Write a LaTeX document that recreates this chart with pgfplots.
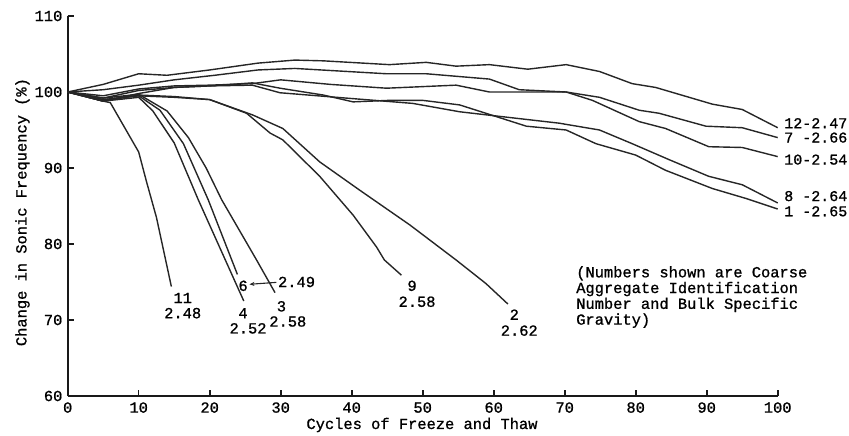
\documentclass[border=0pt]{standalone}
\usepackage{pgfplots}
\pgfplotsset{compat=1.18}
\usetikzlibrary{arrows.meta}
\usepackage{fontspec}
\setmainfont{Liberation Mono}[FakeBold=1]
\newcommand{\lbl}{\fontsize{15.4bp}{16bp}\selectfont}
\newcommand{\taglbl}{\fontsize{15bp}{16bp}\selectfont}
\pgfplotsset{curve/.style={black!85, solid, line width=1.4bp, line join=round, mark=none}}
\begin{document}
\lbl
\begin{tikzpicture}
\begin{axis}[
  at={(0,0)}, anchor=south west,
  scale only axis, width=710bp, height=380bp,
  xmin=0, xmax=100, ymin=60, ymax=110,
  axis lines=left,
  axis line style={-, line width=1.9bp, black!90},
  xtick={0,10,...,100}, ytick={60,70,...,110},
  tick align=inside, major tick length=6bp,
  tick style={line width=1.6bp, black!90},
  /pgf/number format/assume math mode=true,
  ticklabel style={font=\lbl},
  xticklabel style={yshift=-1bp},
  xlabel={Cycles of Freeze and Thaw},
  ylabel={Change in Sonic Frequency (\%)},
  xlabel style={font=\lbl, at={(axis description cs:0.499,0)}, anchor=center, yshift=-29bp},
  ylabel style={font=\lbl, at={(axis description cs:-0.0637,0.484)}, anchor=center},
  clip=false,
]
% specimen 12
\addplot[curve] coordinates {(0,100) (5,101.0) (10,102.4) (14,102.2) (20,102.9) (26.8,103.8) (32,104.2) (36,104.1) (45.3,103.6) (50.5,103.9) (54.7,103.4) (59.4,103.6) (64.8,103.0) (70.2,103.6) (74.9,102.7) (79.5,101.1) (82.8,100.6) (90.8,98.4) (95,97.7) (100,95.3)};
% specimen 7
\addplot[curve] coordinates {(0,100) (5,100.3) (10,100.9) (15,101.6) (20.7,102.2) (26.8,102.9) (32,103.1) (44.9,102.4) (50.5,102.4) (59.4,101.7) (63.6,100.3) (70.2,100.0) (74.9,99.3) (80.5,97.6) (83.3,97.2) (89.9,95.5) (95,95.3) (100,94.0)};
% specimen 10
\addplot[curve] coordinates {(0,100) (5,99.5) (10,100.4) (15,100.8) (20,100.9) (26,101.1) (30,101.6) (37,101.0) (44.9,100.5) (54.7,100.9) (59.4,100.0) (70.2,100.0) (73.9,98.9) (80.5,96.1) (84.2,95.2) (90.3,92.8) (95,92.7) (100,91.5)};
% specimen 1
\addplot[curve] coordinates {(0,100) (5,98.8) (10,99.8) (15,100.6) (20,100.8) (26,101.2) (29.9,100.5) (36,99.6) (40.2,98.7) (45.3,98.9) (50,98.9) (55.2,98.3) (58.9,97.2) (64.6,95.5) (70.2,95.0) (74.4,93.2) (80,91.7) (84.2,89.7) (90.8,87.3) (95.5,86.0) (100,84.6)};
% specimen 8
\addplot[curve] coordinates {(0,100) (5,99.2) (10,100.2) (15,100.6) (20,100.8) (26,100.9) (29.9,99.9) (39.2,99.2) (48.6,98.5) (55.2,97.4) (58.9,97.0) (69.2,95.9) (74.9,95.0) (79.5,93.2) (84.7,91.1) (90.3,88.9) (95,87.8) (100,85.4)};
% specimen 2
\addplot[curve] coordinates {(0,100) (5,98.8) (10,99.6) (15,99.4) (20,99.0) (26,97.0) (30.3,95.2) (35.5,90.8) (41.1,87.1) (48.2,82.5) (54.7,77.9) (58.9,74.8) (62,72.1)};
% specimen 9
\addplot[curve] coordinates {(0,100) (5,99.0) (10,99.5) (15,99.3) (20,99.0) (25.2,97.2) (28.5,94.6) (30.3,93.7) (35.5,88.9) (40.2,83.8) (43.5,79.6) (44.6,77.9) (47,75.9)};
% specimen 11
\addplot[curve] coordinates {(0,100) (5,98.8) (6,98.6) (10,92.1) (11.1,88.2) (12.5,83.5) (14.6,74.4)};
% specimen 4
\addplot[curve] coordinates {(0,100) (5,98.8) (10,99.3) (12,97.5) (15,93.3) (18.4,85.8) (24.8,72.5)};
% specimen 6
\addplot[curve] coordinates {(0,100) (5,99.0) (10,99.5) (13,97.6) (16.3,93.2) (19.8,85.8) (23.9,76.0)};
% specimen 3
\addplot[curve] coordinates {(0,100) (5,99.2) (10,99.7) (14,97.5) (17,94.0) (19.5,90.0) (21.7,85.8) (26.6,77.9) (29.2,73.6)};

% identification number and bulk specific gravity
\node[font=\lbl, inner sep=0] at (axis cs:16.2,72.9) {11};
\node[font=\lbl, inner sep=0] at (axis cs:16.2,70.9) {2.48};
\node[font=\lbl, inner sep=0] at (axis cs:24.7,70.9) {4};
\node[font=\lbl, inner sep=0] at (axis cs:25.4,68.9) {2.52};
\node[font=\lbl, inner sep=0] at (axis cs:30.1,71.8) {3};
\node[font=\lbl, inner sep=0] at (axis cs:31.0,69.8) {2.58};
\node[font=\lbl, inner sep=0] at (axis cs:24.7,74.5) {6};
\node[font=\lbl, inner sep=0, anchor=west] at (axis cs:29.6,75.0) {2.49};
\draw[-{Stealth[length=5bp,width=4bp]}, line width=1.1bp, black!85] (axis cs:29.4,74.95) -- (axis cs:25.6,74.7);
\node[font=\lbl, inner sep=0] at (axis cs:48.5,74.5) {9};
\node[font=\lbl, inner sep=0] at (axis cs:49.2,72.4) {2.58};
\node[font=\lbl, inner sep=0] at (axis cs:62.9,70.7) {2};
\node[font=\lbl, inner sep=0] at (axis cs:63.6,68.6) {2.62};

\node[font=\taglbl, inner sep=0, anchor=west] at (axis cs:100.9,95.9) {12-2.47};
\node[font=\taglbl, inner sep=0, anchor=west] at (axis cs:100.9,94.0) {7 -2.66};
\node[font=\taglbl, inner sep=0, anchor=west] at (axis cs:100.9,91.1) {10-2.54};
\node[font=\taglbl, inner sep=0, anchor=west] at (axis cs:100.9,86.3) {8 -2.64};
\node[font=\taglbl, inner sep=0, anchor=west] at (axis cs:100.9,84.3) {1 -2.65};

\node[font=\lbl, inner sep=0, anchor=base west] at (axis cs:71.6,75.62) {(Numbers shown are Coarse};
\node[font=\lbl, inner sep=0, anchor=base west] at (axis cs:71.6,73.55) {Aggregate Identification};
\node[font=\lbl, inner sep=0, anchor=base west] at (axis cs:71.6,71.47) {Number and Bulk Specific};
\node[font=\lbl, inner sep=0, anchor=base west] at (axis cs:71.6,69.39) {Gravity)};
\end{axis}
\pgfresetboundingbox
\useasboundingbox (-67.7bp,-40bp) rectangle (781.3bp,396bp);
\end{tikzpicture}
\end{document}
